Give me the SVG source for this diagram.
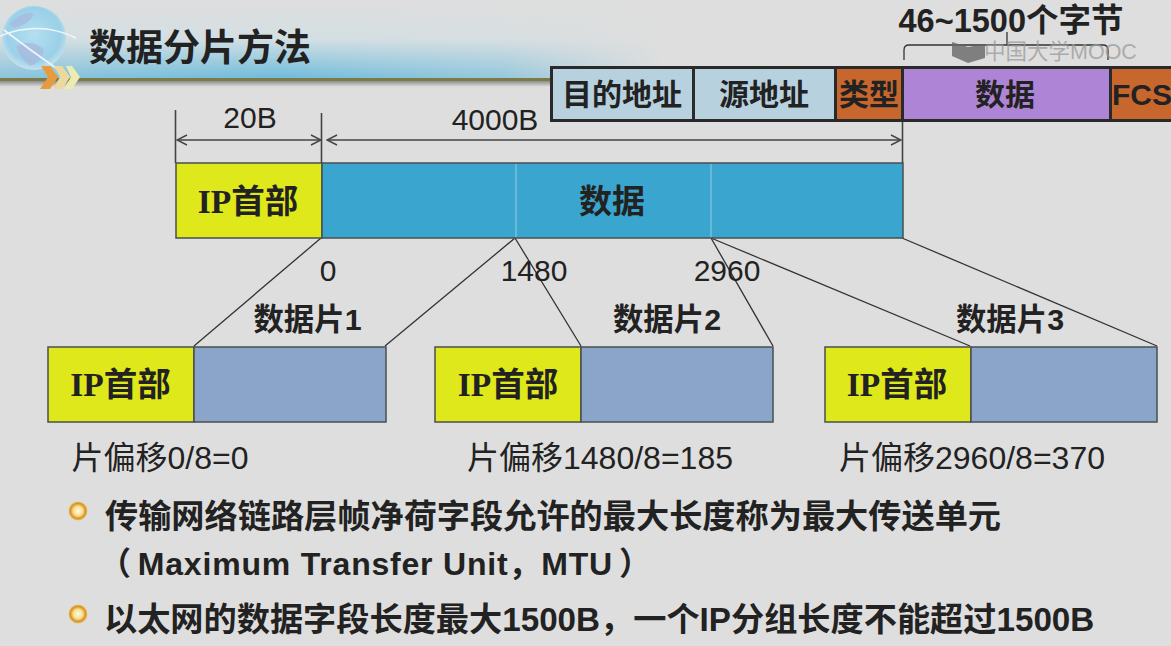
<svg xmlns="http://www.w3.org/2000/svg" width="1171" height="646" viewBox="0 0 1171 646">
<style>
text{font-family:"Liberation Sans","Noto Sans CJK SC",sans-serif;fill:#222;text-anchor:middle}
.b{font-weight:700}
.l{text-anchor:start}
.cjk{font-family:"Noto Sans CJK SC",sans-serif}
.ip{font-family:"Liberation Serif","Noto Sans CJK SC",serif;font-weight:700;font-size:33.500px}
.t30{font-size:30px}
.t29{font-size:30.400px}
.off{font-size:32px}
.dimt{font-size:30px}
.box{stroke:#4a4f50;stroke-width:1.5}
.frame{stroke:#2a2a2a;stroke-width:3}
.line{stroke:#333;stroke-width:1.3;fill:none}
.dim{stroke:#444;stroke-width:1.6;fill:none}
</style>
<defs>
<linearGradient id="band" x1="0" y1="0" x2="0" y2="1">
<stop offset="0" stop-color="#dedede"/><stop offset=".5" stop-color="#d3dfe3"/><stop offset="1" stop-color="#6fbcdc"/>
</linearGradient>
<linearGradient id="fade" x1="0" y1="0" x2="1" y2="0">
<stop offset="0" stop-color="#dedede" stop-opacity=".25"/><stop offset=".4" stop-color="#dedede" stop-opacity="0"/><stop offset=".72" stop-color="#dedede" stop-opacity=".35"/><stop offset=".95" stop-color="#dedede"/>
</linearGradient>
<linearGradient id="under" x1="0" y1="0" x2="0" y2="1">
<stop offset="0" stop-color="#8d8d8d"/><stop offset="1" stop-color="#dedede"/>
</linearGradient>
<radialGradient id="globe" cx=".5" cy=".45" r=".6">
<stop offset="0" stop-color="#b4dff0"/><stop offset=".7" stop-color="#9ad0e8"/><stop offset="1" stop-color="#d8e9f0"/>
</radialGradient>
<radialGradient id="dot" cx=".5" cy=".5" r=".5">
<stop offset="0" stop-color="#fffbe0"/><stop offset=".5" stop-color="#f6df90"/><stop offset=".8" stop-color="#d98f20"/><stop offset="1" stop-color="#e9c97a"/>
</radialGradient>
<marker id="open" viewBox="0 0 12 12" refX="11" refY="6" markerWidth="12" markerHeight="12" markerUnits="userSpaceOnUse" orient="auto-start-reverse">
<path d="M1 1L11 6L1 11" fill="none" stroke="#444" stroke-width="1.4"/>
</marker>
</defs>
<rect width="1171" height="646" fill="#dedede"/>
<g id="header">
<rect x="0" y="0" width="700" height="78" fill="url(#band)"/>
<rect x="0" y="0" width="700" height="78" fill="url(#fade)"/>
<rect x="0" y="78" width="552" height="3" fill="#7d7a45"/>
<rect x="0" y="81" width="552" height="6" fill="url(#under)"/>
<circle cx="34" cy="38" r="32" fill="url(#globe)"/>
<path d="M10 24Q24 10 34 14Q30 24 14 28ZM16 46Q32 38 44 50Q42 62 30 66Q20 58 16 46Z" fill="#a9b6dc" opacity=".7"/>
<path d="M0 36Q40 20 76 38M4 30Q30 50 56 68" fill="none" stroke="#eef6f9" stroke-width="1.6"/>
<path d="M41 66H50L58 77L50 89H40L48 77Z" fill="#e89a3e"/>
<path d="M54 66H62L70 77L62 89H53L60 77Z" fill="#ecd9a0"/>
<path d="M66 66H72L80 77L72 89H64L71 77Z" fill="#ecebb0"/>
<text class="b cjk" x="200" y="61" font-size="37">数据分片方法</text>
</g>
<g id="connectors">
<path class="dim" d="M175.500 110V163M321.500 113V163M902.500 122V163"/>
<path class="dim" d="M177 140H321" marker-start="url(#open)" marker-end="url(#open)"/>
<path class="dim" d="M327 140H901" marker-start="url(#open)" marker-end="url(#open)"/>
<path class="line" d="M321 238L194 346M515 238L385 346M515 238L581 346M711 238L773 346M711 238L970 346M902 238L1157 346"/>
<path class="line" d="M904 60V50Q904 45 909 45H1103Q1108 45 1108 50V60M1007 45V32"/>
</g>
<g id="frame-header">
<rect class="frame" x="551.500" y="67.500" width="142" height="53" fill="#b7d1df"/>
<rect class="frame" x="693.500" y="67.500" width="142" height="53" fill="#b7d1df"/>
<rect class="frame" x="835.500" y="67.500" width="67" height="53" fill="#c8672d"/>
<rect class="frame" x="902.500" y="67.500" width="208" height="53" fill="#ae84d6"/>
<rect class="frame" x="1110.500" y="67.500" width="64" height="53" fill="#c8672d"/>
<text class="b cjk t30" x="622" y="105">目的地址</text>
<text class="b cjk t30" x="764" y="105">源地址</text>
<text class="b cjk t30" x="869" y="105">类型</text>
<text class="b cjk t30" x="1005" y="105">数据</text>
<text class="b t30" x="1142" y="105">FCS</text>
<text class="b" x="1011" y="32" font-size="32.500">46~1500个字节</text>
</g>
<g id="labels-dim">
<text class="dimt" x="250" y="128">20B</text>
<text class="dimt" x="495" y="130">4000B</text>
</g>
<g id="packet">
<rect class="box" x="176" y="163" width="146" height="75" fill="#dfe81a"/>
<rect class="box" x="322" y="163" width="581" height="75" fill="#3aa6cf"/>
<path d="M516 164V237M711 164V237" stroke="#79bfd8" stroke-width="1.500"/>
<text class="ip" x="248" y="213">IP首部</text>
<text class="b cjk" x="612" y="213" font-size="33">数据</text>
</g>
<g id="offsets">
<text class="dimt" x="328" y="281">0</text>
<text class="dimt" x="534" y="281">1480</text>
<text class="dimt" x="727" y="281">2960</text>
</g>
<g id="fragment-1">
<rect class="box" x="48" y="347" width="146" height="75" fill="#dfe81a"/>
<rect class="box" x="194" y="347" width="192" height="75" fill="#8ba4c9"/>
<text class="ip" x="120.500" y="396">IP首部</text>
<text class="b t29" x="307.500" y="330">数据片1</text>
<text class="off" x="160" y="469">片偏移0/8=0</text>
</g>
<g id="fragment-2">
<rect class="box" x="435" y="347" width="146" height="75" fill="#dfe81a"/>
<rect class="box" x="581" y="347" width="192" height="75" fill="#8ba4c9"/>
<text class="ip" x="508" y="396">IP首部</text>
<text class="b t29" x="667" y="330">数据片2</text>
<text class="off" x="600" y="469">片偏移1480/8=185</text>
</g>
<g id="fragment-3">
<rect class="box" x="825" y="347" width="146" height="75" fill="#dfe81a"/>
<rect class="box" x="971" y="347" width="186" height="75" fill="#8ba4c9"/>
<text class="ip" x="897" y="396">IP首部</text>
<text class="b t29" x="1010" y="330">数据片3</text>
<text class="off" x="972" y="469">片偏移2960/8=370</text>
</g>
<g id="bullets">
<circle cx="78" cy="511" r="9.500" fill="url(#dot)"/>
<circle cx="78" cy="614" r="9.500" fill="url(#dot)"/>
<text class="b l cjk" x="105" y="528" font-size="33.200">传输网络链路层帧净荷字段允许的最大长度称为最大传送单元</text>
<text class="b l" x="99" y="575" font-size="32" letter-spacing=".8">（<tspan dx="6">Maximum Transfer Unit，MTU</tspan><tspan dx="6">）</tspan></text>
<text class="b l" x="104" y="631" font-size="33.200">以太网的数据字段长度最大1500B，一个IP分组长度不能超过1500B</text>
</g>
<g id="watermark">
<path d="M952 42L968 47L985 44V58L968 63L952 56Z" fill="#666" opacity=".8"/>
<text class="l" x="984" y="59" font-size="21.500" style="fill:#9a9a9a" opacity=".75">中国大学MOOC</text>
</g>
</svg>
